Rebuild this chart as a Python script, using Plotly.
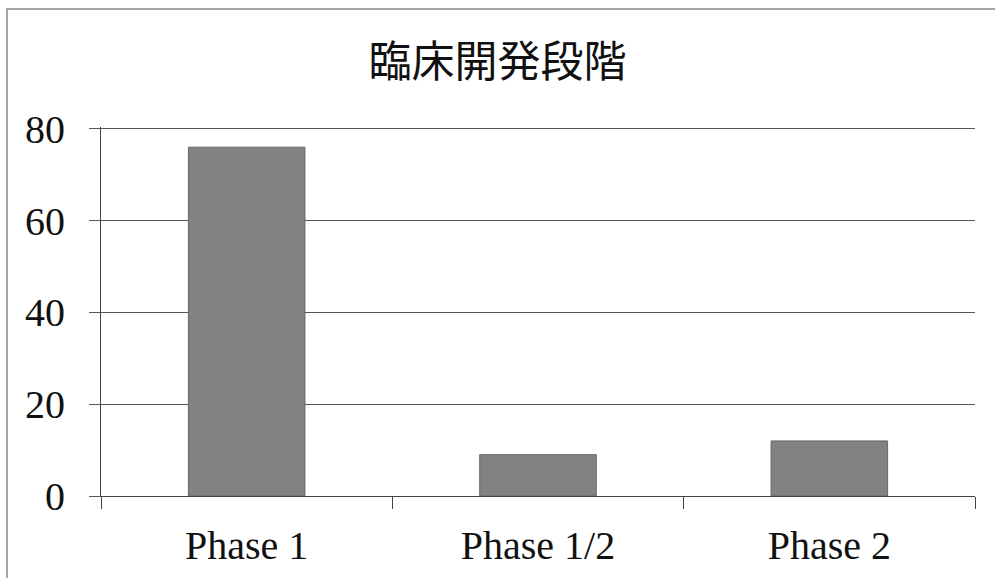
import plotly.graph_objects as go

# 臨床開発段階ごとの件数
phases = ["Phase 1", "Phase 1/2", "Phase 2"]
counts = [76, 9, 12]
y_ticks = [0, 20, 40, 60, 80]

W, H = 995, 578
L, R, T, B = 101, 20, 127, 82

serif = "Liberation Serif, DejaVu Serif, serif"

fig = go.Figure(
    go.Bar(
        x=phases,
        y=counts,
        marker=dict(color="#828282", line=dict(color="#666", width=1)),
        width=0.4,
    )
)

fig.update_layout(
    width=W,
    height=H,
    margin=dict(l=L, r=R, t=T, b=B),
    paper_bgcolor="white",
    plot_bgcolor="white",
    showlegend=False,
    title=dict(
        text="臨床開発段階",
        font=dict(family="Noto Sans CJK JP", size=43, color="#111"),
        x=0.5,
        xanchor="center",
        y=1 - 62 / H,
        yanchor="middle",
    ),
    xaxis=dict(
        automargin=False,
        showgrid=False,
        showline=True,
        linecolor="#444",
        linewidth=1,
        ticks="outside",
        tickson="boundaries",
        ticklen=12,
        tickcolor="#444",
        tickfont=dict(family=serif, size=40, color="#111"),
        ticklabelstandoff=14,
    ),
    yaxis=dict(
        automargin=False,
        # small headroom keeps the 80 grid line inside the plot area
        range=[0, 80.4],
        tickvals=y_ticks,
        showgrid=True,
        gridcolor="#555",
        gridwidth=1,
        showline=True,
        linecolor="#444",
        linewidth=1,
        ticks="outside",
        ticklen=11,
        tickcolor="#555",
        tickfont=dict(family=serif, size=40, color="#111"),
        ticklabelstandoff=16,
        zeroline=False,
    ),
    shapes=[
        # outer chart frame
        dict(
            type="rect",
            xref="paper",
            yref="paper",
            x0=(7 - L) / (W - L - R),
            x1=1.2,
            y0=-0.5,
            y1=1 + (T - 9) / (H - T - B),
            line=dict(color="#888", width=1.5),
            fillcolor="rgba(0,0,0,0)",
            layer="below",
        ),
    ],
)

fig.write_html("out.html")
